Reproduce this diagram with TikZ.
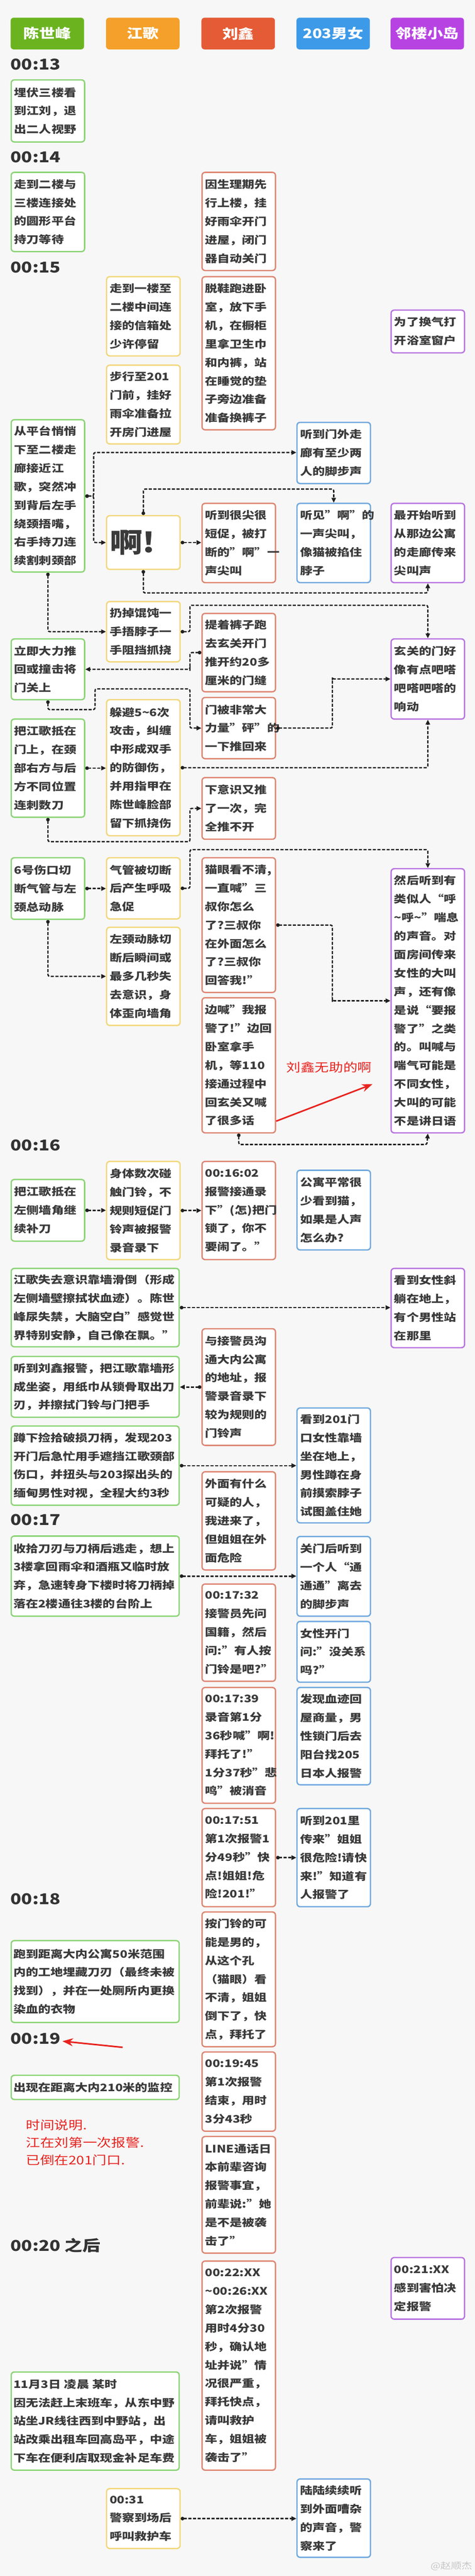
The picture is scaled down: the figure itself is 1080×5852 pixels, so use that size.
\documentclass[tikz,border=0pt]{standalone}
\usepackage{fontspec}
\setmainfont{Noto Sans CJK SC}[FakeStretch=1.2]
\usetikzlibrary{arrows.meta}
\definecolor{bgc}{HTML}{F7F7F7}
\definecolor{txt}{HTML}{3A3A3A}
\definecolor{gline}{HTML}{8AD474}
\definecolor{yline}{HTML}{F2D77A}
\definecolor{rline}{HTML}{DE8571}
\definecolor{bline}{HTML}{6FA8DE}
\definecolor{pline}{HTML}{B874E0}
\definecolor{gh}{HTML}{6BB420}
\definecolor{yh}{HTML}{F4A02A}
\definecolor{rh}{HTML}{E45B35}
\definecolor{bh}{HTML}{3D9AE8}
\definecolor{ph}{HTML}{B744E2}
\definecolor{redc}{HTML}{E8231F}
\newcommand\bxfont{\bfseries\fontsize{23.5}{42}\selectfont}
\newcommand\hdfont{\bfseries\fontsize{30}{36}\selectfont}
\newcommand\tmfont{\bfseries\fontsize{34}{40}\selectfont}
\newcommand\rdfont{\fontsize{27}{40}\selectfont}
\newcommand\bigfont{\bfseries\fontsize{62}{70}\selectfont}
\tikzset{
  cbox/.style={draw, line width=3pt, rounded corners=7pt, fill=white, anchor=north west,
    inner xsep=7pt, inner ysep=0pt, text width=153pt, align=left, text=txt, font=\bxfont},
  gbox/.style={cbox, draw=gline},
  ybox/.style={cbox, draw=yline},
  rbox/.style={cbox, draw=rline},
  bbox/.style={cbox, draw=bline},
  pbox/.style={cbox, draw=pline},
  wide/.style={inner xsep=5pt, text width=372pt},
  ht/.style={minimum height=#1},
  hdr/.style={fill=#1, rounded corners=7pt, minimum width=167pt, minimum height=72pt,
    anchor=north west, text=white, font=\hdfont, inner sep=0pt},
  tlabel/.style={anchor=west, font=\tmfont, text=black!80, inner sep=0pt},
  conn/.style={draw=black!88, line width=3pt, dash pattern=on 7pt off 3.5pt, rounded corners=4pt,
    {Circle[length=8pt]}-{Triangle[length=11pt,width=10pt]}},
  redarrow/.style={draw=redc, line width=3.5pt, -{Stealth[length=24pt,width=18pt]}},
  rednote/.style={text=redc, font=\rdfont, anchor=west, inner sep=0pt, align=left}
}
\begin{document}
\begin{tikzpicture}[x=1pt,y=-1pt]
\fill[bgc] (0,0) rectangle (1080,5852);
\useasboundingbox (0,0) rectangle (1080,5852);

% headers
\node[hdr=gh] (h1) at (24,40) {陈世峰};
\node[hdr=yh] (h2) at (241,40) {江歌};
\node[hdr=rh] (h3) at (458,40) {刘鑫};
\node[hdr=bh] (h4) at (674,40) {203男女};
\node[hdr=ph] (h5) at (888,40) {邻楼小岛};

% time labels
\node[tlabel] (t13) at (24,146) {00:13};
\node[tlabel] (t14) at (24,357) {00:14};
\node[tlabel] (t15) at (24,607) {00:15};
\node[tlabel] (t16) at (24,2602) {00:16};
\node[tlabel] (t17) at (24,3453) {00:17};
\node[tlabel] (t18) at (24,4314) {00:18};
\node[tlabel] (t19) at (24,4631) {00:19};
\node[tlabel] (t20) at (24,5101) {00:20 之后};

% 00:13 - 00:15
\node[gbox, ht=141pt] (a1) at (24,180) {埋伏三楼看\\到江刘，退\\出二人视野};
\node[gbox, ht=180pt] (a2) at (24,390) {走到二楼与\\三楼连接处\\的圆形平台\\持刀等待};
\node[rbox, ht=223pt] (r1) at (458,390) {因生理期先\\行上楼，挂\\好雨伞开门\\进屋，闭门\\器自动关门};
\node[ybox, ht=180pt] (y1) at (241,627) {走到一楼至\\二楼中间连\\接的信箱处\\少许停留};
\node[rbox, ht=348pt] (r2) at (458,627) {脱鞋跑进卧\\室，放下手\\机，在橱柜\\里拿卫生巾\\和内裤，站\\在睡觉的垫\\子旁边准备\\准备换裤子};
\node[pbox, ht=97pt] (p1) at (888,703) {为了换气打\\开浴室窗户};
\node[ybox, ht=179pt] (y2) at (241,828) {步行至201\\门前，挂好\\雨伞准备拉\\开房门进屋};
\node[gbox, ht=346pt] (a3) at (24,952) {从平台悄悄\\下至二楼走\\廊接近江\\歌，突然冲\\到背后左手\\绕颈捂嘴，\\右手持刀连\\续割刺颈部};
\node[bbox, ht=139pt] (b1) at (674,958) {听到门外走\\廊有至少两\\人的脚步声};
\node[ybox, ht=122pt, font=\bigfont] (y3) at (241,1170) {啊!};
\node[rbox, ht=180pt] (r3) at (458,1142) {听到很尖很\\短促，被打\\断的"啊"一\\声尖叫};
\node[bbox, ht=180pt] (b2) at (674,1142) {听见"啊"的\\一声尖叫，\\像猫被掐住\\脖子};
\node[pbox, ht=180pt] (p2) at (888,1142) {最开始听到\\从那边公寓\\的走廊传来\\尖叫声};
\node[ybox, ht=137pt] (y4) at (241,1365) {扔掉馄饨一\\手捂脖子一\\手阻挡抓挠};
\node[rbox, ht=178pt] (r4) at (458,1392) {提着裤子跑\\去玄关开门\\推开约20多\\厘米的门缝};
\node[gbox, ht=138pt] (a4) at (24,1450) {立即大力推\\回或撞击将\\门关上};
\node[pbox, ht=182pt] (p3) at (888,1450) {玄关的门好\\像有点吧嗒\\吧嗒吧嗒的\\响动};
\node[rbox, ht=139pt] (r5) at (458,1583) {门被非常大\\力量"砰"的\\一下推回来};
\node[ybox, ht=309pt] (y5) at (241,1588) {躲避5\textasciitilde6次\\攻击，纠缠\\中形成双手\\的防御伤，\\并用指甲在\\陈世峰脸部\\留下抓挠伤};
\node[gbox, ht=223pt] (a5) at (24,1632) {把江歌抵在\\门上，在颈\\部右方与后\\方不同位置\\连刺数刀};
\node[rbox, ht=140pt] (r6) at (458,1765) {下意识又推\\了一次，完\\全推不开};
\node[gbox, ht=140pt] (a6) at (24,1947) {6号伤口切\\断气管与左\\颈总动脉};
\node[ybox, ht=139pt] (y6) at (241,1947) {气管被切断\\后产生呼吸\\急促};
\node[rbox, ht=306pt] (r7) at (458,1947) {猫眼看不清,\\一直喊"三\\叔你怎么\\了?三叔你\\在外面怎么\\了?三叔你\\回答我!"};
\node[pbox, ht=600pt] (p4) at (888,1972) {然后听到有\\类似人“呼\\\textasciitilde 呼\textasciitilde”喘息\\的声音。对\\面房间传来\\女性的大叫\\声，还有像\\是说“要报\\警了”之类\\的。叫喊与\\喘气可能是\\不同女性，\\大叫的可能\\不是讲日语};
\node[ybox, ht=223pt] (y7) at (241,2105) {左颈动脉切\\断后瞬间或\\最多几秒失\\去意识，身\\体歪向墙角};
\node[rbox, ht=307pt] (r8) at (458,2265) {边喊"我报\\警了!"边回\\卧室拿手\\机，等110\\接通过程中\\回玄关又喊\\了很多话};

% 00:16
\node[gbox, ht=140pt] (a7) at (24,2678) {把江歌抵在\\左侧墙角继\\续补刀};
\node[ybox, ht=223pt] (y8) at (241,2637) {身体数次碰\\触门铃，不\\规则短促门\\铃声被报警\\录音录下};
\node[rbox, ht=223pt] (r9) at (458,2637) {00:16:02\\报警接通录\\下"(怎)把门\\锁了，你不\\要闹了。"};
\node[bbox, ht=181pt] (b3) at (674,2657) {公寓平常很\\少看到猫，\\如果是人声\\怎么办?};
\node[gbox, wide, ht=178pt] (a8) at (24,2880) {江歌失去意识靠墙滑倒（形成\\左侧墙壁擦拭状血迹）。陈世\\峰尿失禁，大脑空白"感觉世\\界特别安静，自己像在飘。"};
\node[pbox, ht=180pt] (p5) at (888,2880) {看到女性斜\\躺在地上，\\有个男性站\\在那里};
\node[rbox, ht=265pt] (r10) at (458,3017) {与接警员沟\\通大内公寓\\的地址，报\\警录音录下\\较为规则的\\门铃声};
\node[gbox, wide, ht=138pt] (a9) at (24,3080) {听到刘鑫报警，把江歌靠墙形\\成坐姿，用纸巾从锁骨取出刀\\刃，并擦拭门铃与门把手};
\node[bbox, ht=261pt] (b4) at (674,3197) {看到201门\\口女性靠墙\\坐在地上，\\男性蹲在身\\前摸索脖子\\试图盖住她};
\node[gbox, wide, ht=180pt] (a10) at (24,3238) {蹲下捡拾破损刀柄，发现203\\开门后急忙用手遮挡江歌颈部\\伤口，并扭头与203探出头的\\缅甸男性对视，全程大约3秒};
\node[rbox, ht=223pt] (r11) at (458,3342) {外面有什么\\可疑的人，\\我进来了，\\但姐姐在外\\面危险};

% 00:17
\node[gbox, wide, ht=182pt] (a11) at (24,3488) {收拾刀刃与刀柄后逃走，想上\\3楼拿回雨伞和酒瓶又临时放\\弃，急速转身下楼时将刀柄掉\\落在2楼通往3楼的台阶上};
\node[bbox, ht=181pt] (b5) at (674,3489) {关门后听到\\一个人“通\\通通”离去\\的脚步声};
\node[rbox, ht=221pt] (r12) at (458,3597) {00:17:32\\接警员先问\\国籍，然后\\问:"有人按\\门铃是吧?"};
\node[bbox, ht=138pt] (b6) at (674,3682) {女性开门\\问:"没关系\\吗?"};
\node[rbox, ht=263pt] (r13) at (458,3832) {00:17:39\\录音第1分\\36秒喊"啊!\\拜托了!"\\1分37秒"悲\\鸣"被消音};
\node[bbox, ht=221pt] (b7) at (674,3832) {发现血迹回\\屋商量，男\\性锁门后去\\阳台找205\\日本人报警};
\node[rbox, ht=223pt] (r14) at (458,4107) {00:17:51\\第1次报警1\\分49秒"快\\点!姐姐!危\\险!201!"};
\node[bbox, ht=223pt] (b8) at (674,4107) {听到201里\\传来"姐姐\\很危险!请快\\来!"知道有\\人报警了};

% 00:18 - 00:19
\node[rbox, ht=306pt] (r15) at (458,4342) {按门铃的可\\能是男的，\\从这个孔\\（猫眼）看\\不清，姐姐\\倒下了，快\\点，拜托了};
\node[gbox, wide, ht=186pt] (a12) at (24,4407) {跑到距离大内公寓50米范围\\内的工地埋藏刀刃（最终未被\\找到），并在一处厕所内更换\\染血的衣物};
\node[rbox, ht=180pt] (r16) at (458,4660) {00:19:45\\第1次报警\\结束，用时\\3分43秒};
\node[gbox, wide, ht=55pt] (a13) at (24,4713) {出现在距离大内210米的监控};
\node[rbox, ht=265pt] (r17) at (458,4852) {LINE通话日\\本前辈咨询\\报警事宜，\\前辈说:"她\\是不是被袭\\击了"};

% 00:20 after
\node[pbox, ht=140pt] (p6) at (888,5127) {00:21:XX\\感到害怕决\\定报警};
\node[rbox, ht=475pt] (r18) at (458,5135) {00:22:XX\\\textasciitilde 00:26:XX\\第2次报警\\用时4分30\\秒，确认地\\址并说"情\\况很严重，\\拜托快点，\\请叫救护\\车，姐姐被\\袭击了"};
\node[gbox, wide, ht=223pt] (a14) at (24,5387) {11月3日 凌晨 某时\\因无法赶上末班车，从东中野\\站坐JR线往西到中野站，出\\站改乘出租车回高岛平，中途\\下车在便利店取现金补足车费};
\node[ybox, ht=136pt] (y9) at (241,5652) {00:31\\警察到场后\\呼叫救护车};
\node[bbox, ht=178pt] (b9) at (674,5630) {陆陆续续听\\到外面嘈杂\\的声音，警\\察来了};

% connectors
\draw[conn] (a3.east |- 0,1127) -- (213,1127) |- (b1.west |- 0,1028);
\draw[conn] (a3.east |- 0,1127) -- (213,1127) |- (y3.west);
\draw[conn] (y3.north) |- (b2.north |- 0,1111) -- (b2.north);
\draw[conn] (y3.east) -- (r3.west |- y3.east);
\draw[conn] (y3.south) |- (p2.south |- 0,1347) -- (p2.south);
\draw[conn] (a3.south) |- (y4.west);
\draw[conn] (y4.east) -| (432,1375) -| (p3.north);
\draw[conn] (r4.west) -| (432,1520) |- (a4.east);
\draw[conn] (a4.south) |- (216,1612) |- (432,1565) |- (r5.west);
\draw[conn] (r5.east) -| (756,1541) |- (p3.west);
\draw[conn] (a5.east) -- (y5.west |- a5.east);
\draw[conn] (y5.east) -| (p3.south);
\draw[conn] (a5.south) |- (432,1912) |- (r6.west);
\draw[conn] (y6.east) -| (432,1930) -| (p4.north);
\draw[conn] (a6.east) -- (y6.west |- a6.east);
\draw[conn] (a6.south) |- (y7.west);
\draw[conn] (r7.east) -| (756,2272) |- (p4.west);
\draw[conn] (r8.south) |- (971,2600) -- (p4.south);
\draw[conn] (a7.east) -- (y8.west |- a7.east);
\draw[conn] (y8.east) -- (r9.west |- y8.east);
\draw[conn] (a8.east) -- (p5.west |- a8.east);
\draw[conn] (r10.west) -- (a9.east |- r10.west);
\draw[conn] (a10.east) -- (b4.west |- a10.east);
\draw[conn] (a11.east) -- (b5.west |- a11.east);
\draw[conn] (r14.east) -- (b8.west |- r14.east);
\draw[conn] (y9.east) -- (b9.west |- y9.east);

% red annotations
\node[rednote] (n1) at (651,2425) {刘鑫无助的啊};
\coordinate (ra1) at (847,2463);
\draw[redarrow] (r8.east |- 0,2547) -- (ra1);
\coordinate (ra2s) at (279,4651);
\coordinate (ra2e) at (142,4637);
\draw[redarrow] (ra2s) -- (ra2e);
\node[rednote] (n2) at (59,4867) {时间说明.\\江在刘第一次报警.\\已倒在201门口.};

% watermark
\node[anchor=east, text=black!22, font=\fontsize{20}{24}\selectfont, inner sep=0pt] (wm) at (1074,5830) {@赵顺杰};
\end{tikzpicture}
\end{document}
